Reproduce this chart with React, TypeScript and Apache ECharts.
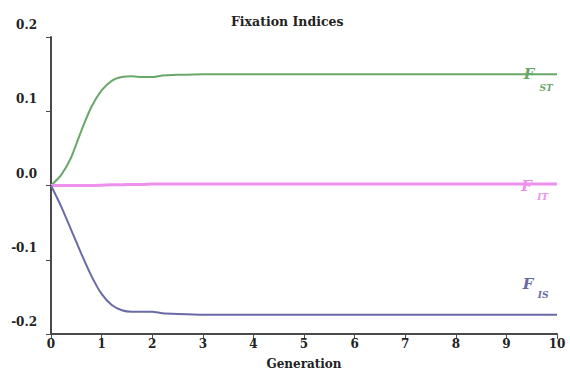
import React, { useEffect, useRef } from "react";
import * as echarts from "echarts";

const generations = [0, 0.2, 0.4, 0.6, 0.8, 1.0, 1.2, 1.4, 1.6, 1.8, 2.0, 2.2, 2.5, 3, 4, 5, 6, 7, 8, 9, 10];
const fst = [0, 0.014, 0.038, 0.074, 0.106, 0.128, 0.141, 0.146, 0.147, 0.146, 0.146, 0.148, 0.149, 0.15, 0.15, 0.15, 0.15, 0.15, 0.15, 0.15, 0.15];
const fit = [0, 0, 0, 0, 0, 0.0005, 0.001, 0.001, 0.0015, 0.0015, 0.002, 0.002, 0.002, 0.002, 0.002, 0.002, 0.002, 0.002, 0.002, 0.002, 0.002];
const fis = [0, -0.028, -0.06, -0.092, -0.122, -0.146, -0.161, -0.168, -0.17, -0.17, -0.17, -0.172, -0.173, -0.174, -0.174, -0.174, -0.174, -0.174, -0.174, -0.174, -0.174];
const yTicks = [-0.2, -0.1, 0, 0.1, 0.2];

const SERIF = "'DejaVu Serif', 'Liberation Serif', serif";
const GREEN = "#6aa86a";
const PINK = "#ee90ee";
const BLUE = "#6a6aa6";

function pairs(ys: number[]) {
  return generations.map((g, i) => [g, ys[i]]);
}

function labelMarks(color: string, x: number, y: number, sub: string, fOff: number[], sOff: number[]) {
  const common = { symbol: "circle", symbolSize: 0 };
  return {
    silent: true,
    animation: false,
    data: [
      {
        ...common,
        coord: [x, y],
        label: {
          show: true,
          position: "inside",
          formatter: "F",
          offset: fOff,
          color,
          fontFamily: SERIF,
          fontStyle: "italic",
          fontWeight: "bold",
          fontSize: 15,
        },
      },
      {
        ...common,
        coord: [x, y],
        label: {
          show: true,
          position: "inside",
          formatter: sub,
          offset: sOff,
          color,
          fontFamily: SERIF,
          fontStyle: "italic",
          fontWeight: "bold",
          fontSize: 9,
        },
      },
    ],
  };
}

export default function App() {
  const ref = useRef<HTMLDivElement>(null);
  useEffect(() => {
    if (!ref.current) return;
    const chart = echarts.init(ref.current, null, { renderer: "svg" });
    chart.setOption({
      animation: false,
      backgroundColor: "#ffffff",
      title: {
        text: "Fixation Indices",
        left: 226,
        top: 10,
        textStyle: { fontFamily: SERIF, fontWeight: "bold", fontSize: 12.5, color: "#222" },
      },
      grid: { left: 51, right: 13, top: 37, bottom: 49, containLabel: false },
      xAxis: {
        type: "value",
        min: 0,
        max: 10,
        interval: 1,
        name: "Generation",
        nameLocation: "middle",
        nameGap: 24,
        nameTextStyle: { fontFamily: SERIF, fontWeight: "bold", fontSize: 12, color: "#222" },
        axisLine: { show: true, onZero: false, lineStyle: { color: "#4a4a4a", width: 2 } },
        axisTick: { show: true, length: 5, inside: false, lineStyle: { color: "#4a4a4a", width: 1 } },
        axisLabel: { fontFamily: SERIF, fontWeight: "bold", fontSize: 12, color: "#222", margin: 4 },
        splitLine: { show: false },
      },
      yAxis: {
        type: "value",
        min: -0.2,
        max: 0.2,
        interval: 0.1,
        axisLine: { show: true, onZero: false, lineStyle: { color: "#4a4a4a", width: 2 } },
        axisTick: { show: true, length: 5, lineStyle: { color: "#4a4a4a", width: 1 } },
        axisLabel: {
          fontFamily: SERIF,
          fontWeight: "bold",
          fontSize: 12,
          color: "#222",
          margin: 14,
          verticalAlign: "bottom",
          padding: [0, 0, 6, 0],
          formatter: (v: number) => {
            const t = yTicks.find((k) => Math.abs(k - v) < 1e-9);
            return (t === undefined ? v : t).toFixed(1);
          },
        },
        splitLine: { show: false },
      },
      series: [
        {
          type: "line",
          name: "FST",
          data: pairs(fst),
          smooth: 0.2,
          showSymbol: false,
          lineStyle: { color: GREEN, width: 2 },
          itemStyle: { color: GREEN },
          markPoint: labelMarks(GREEN, 9.45, 0.15, "ST", [0, 0], [17, 14]),
        },
        {
          type: "line",
          name: "FIT",
          data: pairs(fit),
          smooth: 0.2,
          showSymbol: false,
          lineStyle: { color: PINK, width: 3 },
          itemStyle: { color: PINK },
          markPoint: labelMarks(PINK, 9.4, 0.0, "IT", [0, 0], [16, 11]),
        },
        {
          type: "line",
          name: "FIS",
          data: pairs(fis),
          smooth: 0.2,
          showSymbol: false,
          lineStyle: { color: BLUE, width: 2 },
          itemStyle: { color: BLUE },
          markPoint: labelMarks(BLUE, 9.43, -0.174, "IS", [0, -31], [15, -20]),
        },
      ],
    });
    return () => chart.dispose();
  }, []);
  return (
    <div
      ref={ref}
      style={{ position: "absolute", left: 0, top: 0, width: 570, height: 383, background: "#fff" }}
    />
  );
}
